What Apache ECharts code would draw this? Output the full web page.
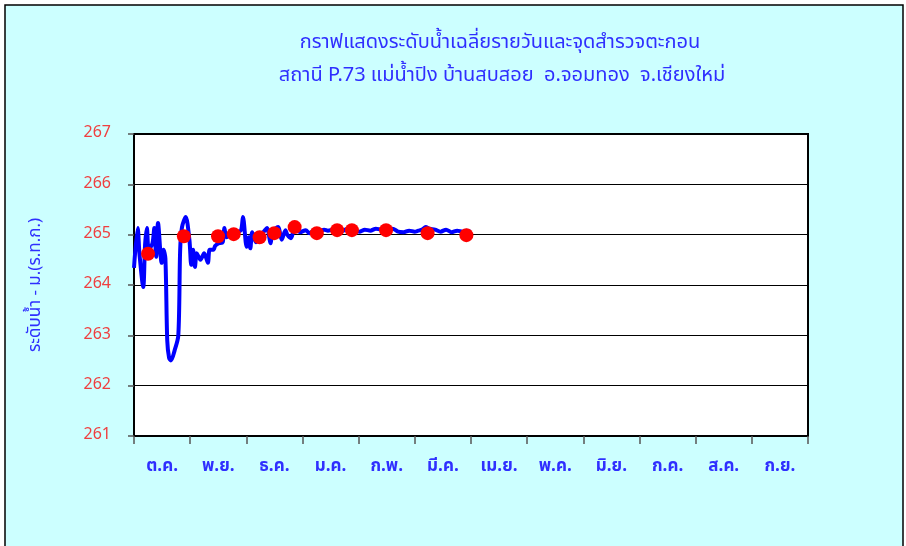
<!DOCTYPE html>
<html>
<head>
<meta charset="utf-8">
<script src="https://cdn.jsdelivr.net/npm/echarts@6/dist/echarts.min.js"></script>
<style>
  html, body { margin: 0; padding: 0; background: #fff; }
  #chart { width: 906px; height: 546px; }
</style>
</head>
<body>
<div id="chart"></div>
<script>
// month labels (water year Oct - Sep)
var months = ['ต.ค.', 'พ.ย.', 'ธ.ค.', 'ม.ค.', 'ก.พ.', 'มี.ค.', 'เม.ย.', 'พ.ค.', 'มิ.ย.', 'ก.ค.', 'ส.ค.', 'ก.ย.'];

// daily mean water level, [day of water year, level m.]
var dailyLevel = [
  [0, 264.34], [2, 265.13], [3, 264.6], [5, 263.96], [6, 264.8], [7, 265.13], [8, 264.7],
  [10, 264.83], [11, 265.13], [12, 264.56], [13, 265.23], [15, 264.44], [16, 264.7], [17, 264.53],
  [18, 262.9], [19, 262.55], [20, 262.5], [22, 262.7], [24, 263.0], [25, 264.7], [26, 265.15],
  [28, 265.35], [30, 264.9], [31, 264.4], [32, 264.7], [33, 264.36], [34, 264.63], [36, 264.5],
  [38, 264.63], [40, 264.44], [41, 264.7], [43, 264.7], [44, 264.78], [46, 264.83], [48, 264.85],
  [49, 265.13], [50, 264.95], [52, 265.0], [56, 265.05], [58, 265.09], [59, 265.35], [61, 264.76],
  [62, 264.95], [63, 264.73], [64, 265.05], [66, 264.85], [68, 265.0], [70, 265.05], [72, 265.13],
  [74, 264.83], [75, 265.05], [78, 265.15], [80, 264.9], [82, 265.09], [83, 265.0], [85, 264.93],
  [87, 265.12], [90, 265.05], [93, 265.09], [95, 265.03], [97, 265.07], [100, 265.06], [103, 265.1],
  [105, 265.08], [108, 265.1], [110, 265.1], [113, 265.08], [116, 265.12], [119, 265.1], [122, 265.06],
  [125, 265.1], [128, 265.08], [131, 265.12], [134, 265.1], [137, 265.11], [140, 265.12], [143, 265.06],
  [146, 265.05], [149, 265.08], [152, 265.06], [154, 265.08], [156, 265.1], [158, 265.15], [160, 265.12],
  [163, 265.1], [166, 265.06], [169, 265.1], [172, 265.05], [175, 265.08], [178, 265.06], [180, 265.08],
  [182, 265.06]
];

// survey points, [day of water year, level m.]
var surveyPoints = [
  [7.6, 264.62], [27, 264.97], [45.5, 264.97], [54, 265.01], [68, 264.95], [76, 265.03],
  [87, 265.15], [99, 265.03], [110, 265.09], [118, 265.09], [136.5, 265.09], [159, 265.03], [180, 264.99]
];

var thaiFont = 'Tahoma, "Noto Sans Thai", "Loma", "Garuda", sans-serif';
var blue = '#2f2fff';

var option = {
  backgroundColor: '#fff',
  animation: false,
  graphic: [{
    type: 'rect',
    z: -10,
    shape: { x: 5, y: 5, width: 898, height: 560 },
    style: { fill: '#ccffff', stroke: '#000', lineWidth: 1.5 }
  }],
  title: [{
    text: 'กราฟแสดงระดับน้ำเฉลี่ยรายวันและจุดสำรวจตะกอน',
    left: 495, top: 29, textAlign: 'center',
    textStyle: { color: blue, fontSize: 20, fontWeight: 'normal', fontFamily: thaiFont }
  }, {
    text: 'สถานี P.73 แม่น้ำปิง บ้านสบสอย  อ.จอมทอง  จ.เชียงใหม่',
    left: 497, top: 62, textAlign: 'center',
    textStyle: { color: blue, fontSize: 20, fontWeight: 'normal', fontFamily: thaiFont }
  }],
  grid: {
    left: 134, top: 134, width: 674, height: 302,
    show: true, backgroundColor: '#fff', borderColor: '#000', borderWidth: 2
  },
  xAxis: [{
    type: 'category',
    data: months,
    boundaryGap: true,
    axisLine: { lineStyle: { color: '#000', width: 2 } },
    axisTick: { show: true, length: 8, lineStyle: { color: '#555', width: 1.5 } },
    axisLabel: { color: blue, fontSize: 17, margin: 23, fontFamily: thaiFont, fontWeight: 'bold' },
    splitLine: { show: false }
  }, {
    type: 'value',
    min: 0, max: 365,
    show: false
  }],
  yAxis: {
    type: 'value',
    min: 261, max: 267, interval: 1,
    name: 'ระดับน้ำ - ม.(ร.ท.ก.)',
    nameLocation: 'middle',
    nameGap: 89,
    nameTextStyle: { color: blue, fontSize: 17, fontFamily: thaiFont },
    axisLine: { show: true, lineStyle: { color: '#000', width: 2 } },
    axisTick: { show: true, length: 6, lineStyle: { color: '#555', width: 1.5 } },
    axisLabel: { color: '#ef4040', fontSize: 16, margin: 23, fontFamily: thaiFont },
    splitLine: { lineStyle: { color: '#000', width: 1 } }
  },
  series: [{
    name: 'ระดับน้ำเฉลี่ยรายวัน',
    type: 'line',
    xAxisIndex: 1,
    data: dailyLevel,
    smooth: 0.3,
    symbol: 'none',
    lineStyle: { color: '#0000ff', width: 4 },
    z: 2
  }, {
    name: 'จุดสำรวจตะกอน',
    type: 'scatter',
    xAxisIndex: 1,
    data: surveyPoints,
    symbolSize: 14,
    itemStyle: { color: '#ff0000', opacity: 1 },
    z: 3
  }]
};

var myChart = echarts.init(document.getElementById('chart'));
myChart.setOption(option);
</script>
</body>
</html>
